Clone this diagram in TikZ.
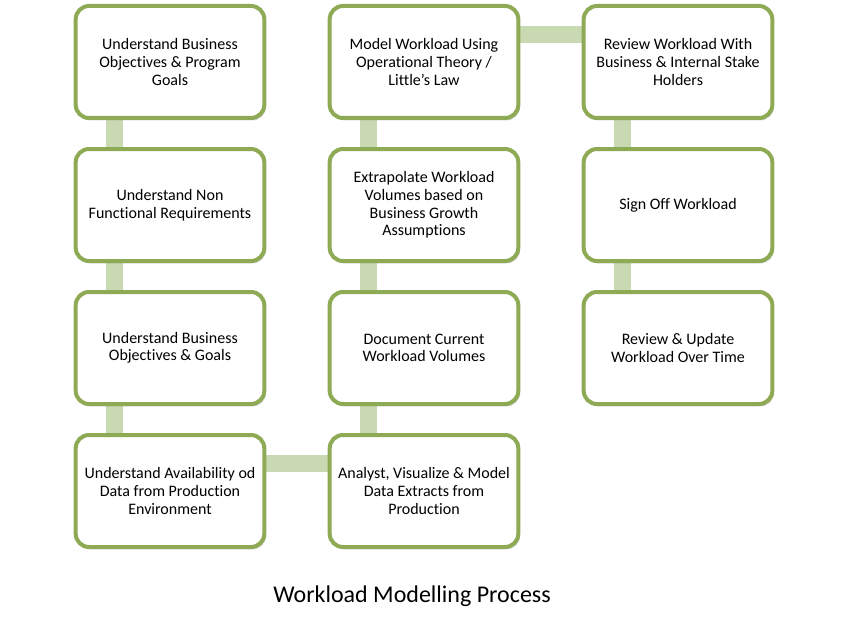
\documentclass[tikz,border=0pt]{standalone}
\usepackage{fontspec}
\setmainfont{Carlito}[Ligatures=NoCommon]
\usepackage {tikz}
\usetikzlibrary {positioning}
\usetikzlibrary{shadows}
\usetikzlibrary{backgrounds}
\definecolor{boxgreen}{HTML}{8FAA55}
\definecolor{linkgreen}{HTML}{C9D9B1}
\tikzset{
    stepbox/.style = {rectangle, rounded corners=10pt, draw=boxgreen, line width=3pt,
      fill=white, minimum width=141.5pt, minimum height=84pt, inner sep=2pt, align=center,
      font=\fontsize{12}{13.2}\selectfont,
      drop shadow={opacity=0.35, shadow xshift=1.2pt, shadow yshift=-1.8pt}},
    link/.style = {draw=linkgreen, line width=12.75pt}}

\begin{document}
\begin{tikzpicture}[auto ,node distance =107.25pt and 190.5pt ,on grid]
    \useasboundingbox (0,0) rectangle (636pt,-468pt);
    \node (goals) [stepbox] at (127.5pt,-46.5pt) {Understand Business\\Objectives \& Program\\Goals};
    \node (nonfunc) [stepbox, below = of goals] {Understand Non\\Functional Requirements};
    \node (objectives) [stepbox, below = of nonfunc] {Understand Business\\Objectives \& Goals};
    \node (availability) [stepbox, below = of objectives] {Understand Availability od\\Data from Production\\Environment};
    \node (extracts) [stepbox, right = of availability] {Analyst, Visualize \& Model\\Data Extracts from\\Production};
    \node (current) [stepbox, above = of extracts] {Document Current\\Workload Volumes};
    \node (extrapolate) [stepbox, above = of current] {Extrapolate Workload\\Volumes based on\\Business Growth\\Assumptions};
    \node (littles) [stepbox, above = of extrapolate] {Model Workload Using\\Operational Theory /\\Little’s Law};
    \node (review) [stepbox, right = of littles] {Review Workload With\\Business \& Internal Stake\\Holders};
    \node (signoff) [stepbox, below = of review] {Sign Off Workload};
    \node (update) [stepbox, below = of signoff] {Review \& Update\\Workload Over Time};
    \node (title) at (309pt,-447pt) {\fontsize{18}{22}\selectfont Workload Modelling Process};
    % bars behind the boxes
    \begin{scope}[on background layer]
    \draw[link] ([xshift=-42pt]goals.center) -- ([xshift=-42pt]availability.center);
    \draw[link] ([xshift=-42pt]littles.center) -- ([xshift=-42pt]extracts.center);
    \draw[link] ([xshift=-42pt]review.center) -- ([xshift=-42pt]update.center);
    \draw[link] ([yshift=20.5pt]littles.center) -- ([yshift=20.5pt]review.center);
    \draw[link] ([yshift=21pt]availability.center) -- ([yshift=21pt]extracts.center);
    \end{scope}
\end{tikzpicture}
\end{document}
